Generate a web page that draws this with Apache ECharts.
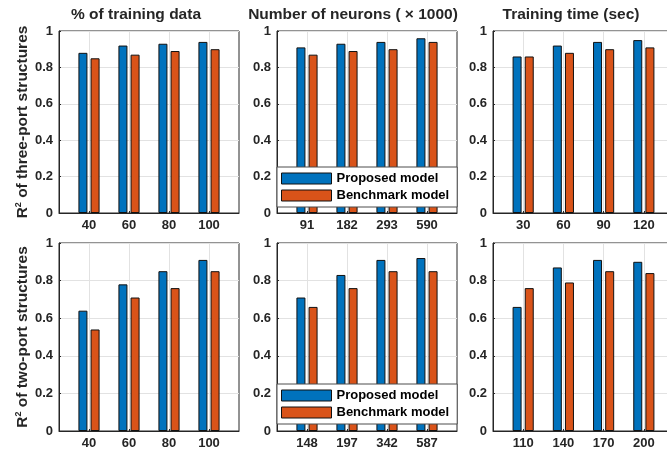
<!DOCTYPE html>
<html>
<head>
<meta charset="utf-8">
<script src="https://cdn.jsdelivr.net/npm/echarts@6/dist/echarts.min.js"></script>
<style>
  html, body { margin: 0; padding: 0; background: #ffffff; }
  #chart { width: 667px; height: 449px; }
</style>
</head>
<body>
<div id="chart"></div>
<script>
// Tick labels of the swept parameters
const trainingShare = ['40', '60', '80', '100'];
const neuronsThreePort = ['91', '182', '293', '590'];
const timeThreePort = ['30', '60', '90', '120'];
const neuronsTwoPort = ['148', '197', '342', '587'];
const timeTwoPort = ['110', '140', '170', '200'];

// R² of three-port structures
const threeShareProposed = [0.88, 0.92, 0.93, 0.94];
const threeShareBenchmark = [0.85, 0.87, 0.89, 0.90];
const threeNeuronsProposed = [0.91, 0.93, 0.94, 0.96];
const threeNeuronsBenchmark = [0.87, 0.89, 0.90, 0.94];
const threeTimeProposed = [0.86, 0.92, 0.94, 0.95];
const threeTimeBenchmark = [0.86, 0.88, 0.90, 0.91];

// R² of two-port structures
const twoShareProposed = [0.64, 0.78, 0.85, 0.91];
const twoShareBenchmark = [0.54, 0.71, 0.76, 0.85];
const twoNeuronsProposed = [0.71, 0.83, 0.91, 0.92];
const twoNeuronsBenchmark = [0.66, 0.76, 0.85, 0.85];
const twoTimeProposed = [0.66, 0.87, 0.91, 0.90];
const twoTimeBenchmark = [0.76, 0.79, 0.85, 0.84];

const columnTitles = ['% of training data', 'Number of neurons ( \u00d7 1000)', 'Training time (sec)'];
const rowNames = ['three-port structures', 'two-port structures'];
const seriesNames = ['Proposed model', 'Benchmark model'];

const FONT = '"Liberation Sans", Arial, Helvetica, sans-serif';
const INK = '#262626';
const GRIDLINE = '#e2e2e2';
const COLORS = ['#0072BD', '#D95319'];

const panels = [
  { labels: trainingShare,    proposed: threeShareProposed,   benchmark: threeShareBenchmark },
  { labels: neuronsThreePort, proposed: threeNeuronsProposed, benchmark: threeNeuronsBenchmark },
  { labels: timeThreePort,    proposed: threeTimeProposed,    benchmark: threeTimeBenchmark },
  { labels: trainingShare,    proposed: twoShareProposed,     benchmark: twoShareBenchmark },
  { labels: neuronsTwoPort,   proposed: twoNeuronsProposed,   benchmark: twoNeuronsBenchmark },
  { labels: timeTwoPort,      proposed: twoTimeProposed,      benchmark: twoTimeBenchmark }
];

// Panel frame layout (px); the right column runs past the canvas edge
const colLeft = [59, 277, 493];
const colWidth = [180, 180, 181];
const rowTop = [31, 243];
const rowHeight = [182, 188];
const titleCenter = [136, 353, 571];

const grids = [], xAxes = [], yAxes = [], series = [];
const positions = [1, 2, 3, 4];

panels.forEach((p, i) => {
  const row = Math.floor(i / 3), col = i % 3;
  grids.push({
    left: colLeft[col], width: colWidth[col], top: rowTop[row], height: rowHeight[row],
    outerBoundsMode: 'none', containLabel: false,
    show: true, borderColor: INK, borderWidth: 1, backgroundColor: '#ffffff'
  });
  xAxes.push({
    type: 'value', gridIndex: i, min: 0.25, max: 4.75,
    axisLine: { show: true, onZero: false, lineStyle: { color: INK, width: 1 } },
    axisTick: { show: true, inside: true, length: 2, customValues: positions, lineStyle: { color: INK } },
    axisLabel: {
      customValues: positions,
      formatter: v => p.labels[Math.round(v) - 1],
      color: INK, fontFamily: FONT, fontSize: 13, fontWeight: 'bold', margin: 6
    },
    splitLine: { show: true, lineStyle: { color: GRIDLINE, width: 1 } }
  });
  const y = {
    type: 'value', gridIndex: i, min: 0, max: 1, interval: 0.2,
    axisLine: { show: true, lineStyle: { color: INK, width: 1 } },
    axisTick: { show: true, inside: true, length: 2, lineStyle: { color: INK } },
    axisLabel: { color: INK, fontFamily: FONT, fontSize: 13, fontWeight: 'bold', margin: 6 },
    splitLine: { show: true, lineStyle: { color: GRIDLINE, width: 1 } }
  };
  if (col === 0) {
    y.name = '{a|R}{s|2}{a| of ' + rowNames[row] + '}';
    y.nameLocation = 'middle';
    y.nameGap = 27;
    y.nameTextStyle = {
      color: INK, fontFamily: FONT,
      rich: {
        a: { fontSize: 15.5, fontWeight: 'bold', color: INK, fontFamily: FONT, lineHeight: 18 },
        s: { fontSize: 9, fontWeight: 'bold', color: INK, fontFamily: FONT, lineHeight: 11, verticalAlign: 'top' }
      }
    };
  }
  yAxes.push(y);
  [p.proposed, p.benchmark].forEach((vals, k) => {
    series.push({
      type: 'bar', name: seriesNames[k], xAxisIndex: i, yAxisIndex: i,
      data: vals.map((v, j) => [positions[j], v]),
      barWidth: 9, barGap: '35%',
      itemStyle: { color: COLORS[k], borderColor: '#111111', borderWidth: 1 },
      emphasis: { disabled: true }
    });
  });
});

const legendBase = {
  orient: 'vertical', left: 277,
  padding: [5, 8, 5, 4], itemGap: 4, itemWidth: 50, itemHeight: 11, itemTextGap: 4,
  icon: 'rect', backgroundColor: '#ffffff', borderColor: '#4d4d4d', borderWidth: 1, borderRadius: 0,
  itemStyle: { borderColor: '#111111', borderWidth: 1 },
  textStyle: { color: '#000000', fontFamily: FONT, fontSize: 13, fontWeight: 'bold', lineHeight: 13 },
  data: seriesNames, selectedMode: false, z: 10
};

const option = {
  backgroundColor: '#ffffff',
  animation: false,
  title: columnTitles.map((t, c) => ({
    text: t, left: titleCenter[c], top: 7, textAlign: 'center', padding: 0,
    textStyle: { color: INK, fontFamily: FONT, fontSize: 15.5, fontWeight: 'bold' }
  })),
  legend: [
    Object.assign({}, legendBase, { top: 167 }),
    Object.assign({}, legendBase, { top: 384 })
  ],
  grid: grids,
  xAxis: xAxes,
  yAxis: yAxes,
  series: series
};

const chart = echarts.init(document.getElementById('chart'), null, { renderer: 'canvas' });
chart.setOption(option);
</script>
</body>
</html>
